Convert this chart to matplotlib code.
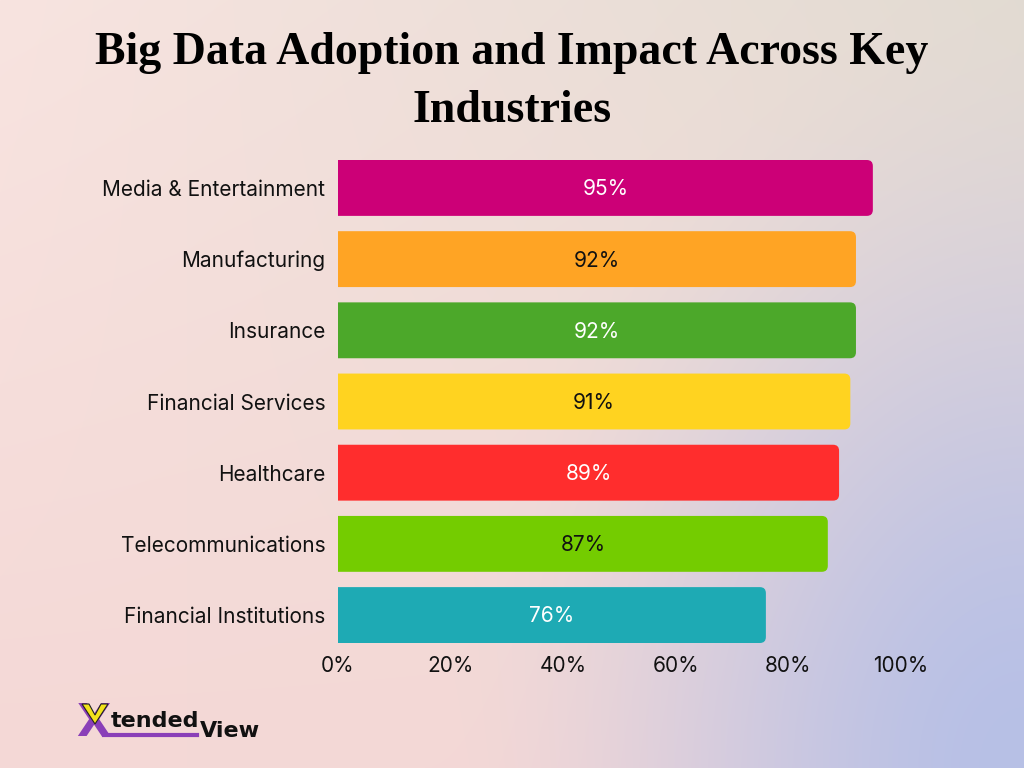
import matplotlib.pyplot as plt
import numpy as np
from matplotlib.patches import FancyBboxPatch, Polygon

### Data

industries = ['Media & Entertainment', 'Manufacturing', 'Insurance', 'Financial Services',
              'Healthcare', 'Telecommunications', 'Financial Institutions']
adoption = [95, 92, 92, 91, 89, 87, 76]
bar_colors = ['#cc0077', '#ffa424', '#4ca82a', '#ffd320', '#ff2d2d', '#74cc00', '#1eaab4']
label_colors = ['white', '#111111', 'white', '#111111', 'white', '#111111', 'white']
xticks = [0, 20, 40, 60, 80, 100]
xtick_labels = [f'{t}%' for t in xticks]
title = 'Big Data Adoption and Impact Across Key\nIndustries'

### Background gradient

W, H = 1024, 768
yy, xx = np.mgrid[0:H, 0:W]
fx, fy = xx / (W - 1), yy / (H - 1)
tl, tr = np.array([248, 228, 224]), np.array([226, 219, 210])
bot = np.array([244, 216, 214])
blue = np.array([183, 192, 230])
top = tl[None, None, :] * (1 - fx[..., None]) + tr[None, None, :] * fx[..., None]
base = top * (1 - fy[..., None]) + bot[None, None, :] * fy[..., None]
d = np.sqrt(((W - xx) / 600.0) ** 2 + ((H - yy) / 800.0) ** 2)
w = np.clip(1 - d, 0, 1)
w = w * w * (3 - 2 * w)
bg = base * (1 - w[..., None]) + blue[None, None, :] * w[..., None]
bg = np.clip(bg / 255.0, 0, 1)

fig = plt.figure(figsize=(10.24, 7.68), dpi=100)
bg_ax = fig.add_axes([0, 0, 1, 1])
bg_ax.imshow(bg, aspect='auto', extent=[0, 1, 0, 1])
bg_ax.set_xlim(0, 1)
bg_ax.set_ylim(0, 1)
bg_ax.set_axis_off()

### Bars

ax = fig.add_axes([338 / W, 1 - 643 / H, (901 - 338) / W, 483 / H])
ax.set_facecolor('none')
n = len(industries)
ypos = np.arange(n)
bar_h = 0.785
ax.set_xlim(0, 100)
ax.set_ylim(n - 1 + bar_h / 2, -bar_h / 2)

# pixel scale for round corners
px_x = (901 - 338) / 100.0
px_y = 483 / (n - 1 + bar_h)
aspect = px_x / px_y
radius = 6 / px_x

for i, (val, col) in enumerate(zip(adoption, bar_colors)):
    y0 = ypos[i] - bar_h / 2
    # start left of the axis so only the right corners stay rounded
    box = FancyBboxPatch((-3, y0), val + 3, bar_h,
                         boxstyle=f'round,pad=0,rounding_size={radius}',
                         mutation_aspect=aspect, facecolor=col, edgecolor='none')
    ax.add_patch(box)
    ax.text(val / 2, ypos[i] + 0.02, f'{val}%', ha='center', va='center',
            fontsize=15, color=label_colors[i], family='Inter')

ax.set_yticks(ypos)
ax.set_yticklabels(industries, fontsize=15, family='Inter', color='#111111')
ax.set_xticks(xticks)
ax.set_xticklabels(xtick_labels, fontsize=15, family='Inter', color='#111111')
ax.tick_params(axis='y', length=0, pad=9)
ax.tick_params(axis='x', length=0, pad=9)
for s in ax.spines.values():
    s.set_visible(False)

### Title

fig.text(0.5, 1 - 82 / H, title, ha='center', va='center', fontsize=33,
         fontweight='bold', family='Liberation Serif', color='black',
         linespacing=1.5)

### Logo

fig.text(76 / W, 1 - 724 / H, 'X', fontsize=32, fontweight='bold', color='#8a3fb8',
         family='DejaVu Sans', ha='left', va='center')
v_mark = Polygon([(82 / W, 1 - 704 / H), (89 / W, 1 - 704 / H), (95 / W, 1 - 715 / H),
                  (101 / W, 1 - 704 / H), (108 / W, 1 - 704 / H), (95 / W, 1 - 724 / H)],
                 closed=True, facecolor='#f2e21c', edgecolor='#222222', lw=0.8,
                 transform=fig.transFigure, zorder=5)
fig.add_artist(v_mark)
fig.text(111 / W, 1 - 721 / H, 'tended', fontsize=16, fontweight='bold', color='#111111',
         family='DejaVu Sans', ha='left', va='center')
fig.add_artist(plt.Line2D([104 / W, 197 / W], [1 - 735 / H, 1 - 735 / H],
                          color='#8a3fb8', lw=3))
fig.text(200 / W, 1 - 731 / H, 'View', fontsize=16, fontweight='bold', color='#111111',
         family='DejaVu Sans', ha='left', va='center')

fig.savefig('out.png', dpi=100)
